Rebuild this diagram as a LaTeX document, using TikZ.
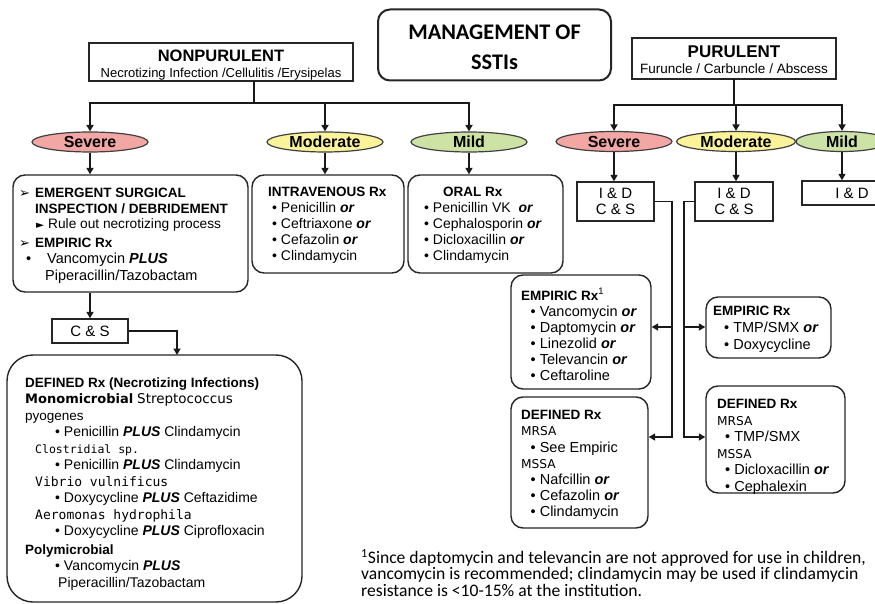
\documentclass[tikz,border=0pt]{standalone}
\usepackage{fontspec}
\setmainfont{Liberation Sans}
\newfontfamily\dingfont{DejaVu Sans}
\newfontfamily\dvsfont{DejaVu Sans}
\newfontfamily\mymono{DejaVu Sans Mono}
\newfontfamily\carlfont{Carlito}
\usetikzlibrary{arrows.meta,shapes.geometric}
\newcommand{\setfs}[2]{\fontsize{#1}{#2}\selectfont}
\newcommand{\bi}[1]{\textbf{\textit{#1}}}
\newcommand{\hd}[1]{{\setfs{13.5}{16}\bfseries #1}}
\newcommand{\dng}[1]{{\dingfont\setfs{13}{16}#1}}
\definecolor{sevcol}{RGB}{242,167,165}
\definecolor{modcol}{RGB}{250,243,154}
\definecolor{mildcol}{RGB}{205,227,165}
\definecolor{edge}{RGB}{38,38,38}
\begin{document}
\begin{tikzpicture}[x=1pt,y=-1pt,
  ln/.style={line width=1.9pt, draw=black!90, line cap=rect},
  arr/.style={line width=1.9pt, draw=black!90, -{Triangle[length=6.5pt,width=7pt]}},
  sqbox/.style={draw=edge, line width=1.4pt, inner sep=0, fill=white},
  rbox/.style={draw=edge, line width=1.4pt, rounded corners=12pt, inner sep=0, fill=white},
  ell/.style={ellipse, draw=black!75, line width=1.2pt, inner sep=0, minimum width=116pt, minimum height=20pt, font=\setfs{16}{16}\bfseries},
  txt/.style={inner sep=0, anchor=north west, align=left},
]
\useasboundingbox (0,0) rectangle (875,604);
\fill[white] (0,0) rectangle (875,604);
\clip (0,0) rectangle (875,604);

% ---------- boxes ----------
\node[rbox, line width=2pt, minimum width=233, minimum height=71] (title) at (494.5,45) {};
\node[sqbox, minimum width=264, minimum height=38] (np) at (221,62) {};
\node[sqbox, minimum width=204, minimum height=41] (pu) at (734,58.5) {};
\node[rbox, minimum width=235, minimum height=117] (sevbox) at (130.5,233.5) {};
\node[rbox, minimum width=152, minimum height=98] (ivbox) at (328,224) {};
\node[rbox, minimum width=155, minimum height=98] (orbox) at (485.5,224) {};
\node[sqbox, minimum width=76, minimum height=24, font=\setfs{15}{16}] (csL) at (90,331) {C \& S};
\node[rbox, rounded corners=26pt, minimum width=295, minimum height=247] (bigbox) at (154.5,478.5) {};
\node[sqbox, minimum width=77, minimum height=39, align=center, font=\setfs{15}{16}] (idS) at (615.5,201.5) {I \& D\\C \& S};
\node[sqbox, minimum width=78, minimum height=39, align=center, font=\setfs{15}{16}] (idM) at (734,201.5) {I \& D\\C \& S};
\node[sqbox, minimum width=100, minimum height=24, font=\setfs{15}{16}] (idMi) at (852,193) {I \& D};
\node[rbox, minimum width=140, minimum height=114] (empS) at (581,332) {};
\node[rbox, minimum width=137, minimum height=131] (defS) at (579.5,462.5) {};
\node[rbox, minimum width=125, minimum height=61] (empM) at (768.5,327.5) {};
\node[rbox, minimum width=139, minimum height=107] (defM) at (775.5,439.5) {};

% ---------- ellipses ----------
\node[ell, fill=sevcol] (eSL) at (90,142) {Severe};
\node[ell, fill=modcol] (eML) at (325,142) {Moderate};
\node[ell, fill=mildcol] (eMiL) at (469,142) {Mild};
\node[ell, fill=sevcol] (eSR) at (614,141.5) {Severe};
\node[ell, fill=modcol, minimum width=119pt] (eMR) at (736,141.5) {Moderate};
\node[ell, fill=mildcol, minimum width=92pt] (eMiR) at (842,141.5) {Mild};

% ---------- connectors ----------
\coordinate (npj) at (254,103);
\coordinate (npl) at (90,103);
\coordinate (npr) at (469,103);
\draw[ln] (npj |- np.south) -- (npj);
\draw[ln] (npl) -- (npr);
\draw[arr] (npl) -- (eSL.north);
\draw[arr] (eML.north |- npl) -- (eML.north);
\draw[arr] (npr) -- (eMiL.north);

\coordinate (pul) at (614,105);
\coordinate (pur) at (842,105);
\draw[ln] (pu.south) -- (pu.south |- pul);
\draw[ln] (pul) -- (pur);
\draw[arr] (pul) -- (eSR.north);
\draw[arr] (eMR.north |- pul) -- (eMR.north);
\draw[arr] (pur) -- (eMiR.north);

\draw[arr] (eSL.south) -- (eSL.south |- sevbox.north);
\draw[arr] (eML.south) -- (eML.south |- ivbox.north);
\draw[arr] (eMiL.south) -- (eMiL.south |- orbox.north);
\draw[arr] (csL.north |- sevbox.south) -- (csL.north);
\coordinate (bigin) at (177,355);
\draw[arr] (csL.east) -| (bigin);

\draw[arr] (eSR.south) -- (eSR.south |- idS.north);
\draw[arr] (eMR.south) -- (eMR.south |- idM.north);
\draw[arr] (eMiR.south) -- (eMiR.south |- idMi.north);

\coordinate (vS1) at (672,327);
\coordinate (vS2) at (672,437);
\coordinate (vM1) at (684,327);
\coordinate (vM2) at (684,437);
\draw[ln] (idS.east) -| (vS2);
\draw[arr] (vS1) -- (vS1 -| empS.east);
\draw[arr] (vS2) -- (vS2 -| defS.east);
\draw[ln] (idM.west) -| (vM2);
\draw[arr] (vM1) -- (vM1 -| empM.west);
\draw[arr] (vM2) -- (vM2 -| defM.west);

% ---------- texts ----------
\node[inner sep=0, anchor=north, align=center, font=\carlfont\setfs{22.3}{30}\bfseries] (titlet) at (494.5,25) {MANAGEMENT OF\\SSTIs};
\node[inner sep=0, anchor=north, align=center, font=\setfs{13}{15.75}] (npt) at (221,50.1) {{\setfs{16.5}{15.75}\bfseries NONPURULENT}\\Necrotizing Infection /Cellulitis /Erysipelas};
\node[inner sep=0, anchor=north, align=center, font=\setfs{13.5}{15.7}] (put) at (734,45.9) {{\setfs{17}{15.7}\bfseries PURULENT}\\Furuncle / Carbuncle / Abscess};

\node[txt, font=\setfs{14.5}{15.5}] (sevt) at (19,188.2) {%
\makebox[16pt][l]{\dng{➢}}\hd{EMERGENT SURGICAL}\\
\hspace*{16pt}\hd{INSPECTION / DEBRIDEMENT}\\
\hspace*{17pt}\makebox[12pt][l]{{\dingfont\setfs{10.5}{15.5}►}}{\setfs{13.7}{15.5}Rule out necrotizing process}\\[3.5pt]
\makebox[16pt][l]{\dng{➢}}\hd{EMPIRIC Rx}\\
\hspace*{7pt}\makebox[21pt][l]{•}Vancomycin \bi{PLUS}\\[1.5pt]
\hspace*{26pt}Piperacillin/Tazobactam};

\node[txt, font=\setfs{14}{16}] (ivt) at (268,187.2) {\hd{INTRAVENOUS Rx}\\
\hspace*{4pt}• Penicillin \bi{or}\\
\hspace*{4pt}• Ceftriaxone \bi{or}\\
\hspace*{4pt}• Cefazolin \bi{or}\\
\hspace*{4pt}• Clindamycin};

\node[txt, font=\setfs{14}{16}] (ort) at (424,187.2) {\hspace*{19pt}\hd{ORAL Rx}\\
• Penicillin VK \ \bi{or}\\
• Cephalosporin \bi{or}\\
• Dicloxacillin \bi{or}\\
• Clindamycin};

\node[txt, font=\setfs{14}{16.5}] (bigt) at (25,377.2) {%
\hd{DEFINED Rx (Necrotizing Infections)}\\
{\dvsfont\setfs{13}{16.5}\bfseries Monomicrobial} {\dvsfont\setfs{13.5}{16.5}Streptococcus}\\
{\setfs{13.5}{16.5}pyogenes}\\
\hspace*{30pt}• Penicillin \bi{PLUS} Clindamycin\\
\hspace*{10pt}{\mymono\setfs{11.5}{16.5}Clostridial sp.}\\
\hspace*{30pt}• Penicillin \bi{PLUS} Clindamycin\\
\hspace*{10pt}{\mymono\setfs{13}{16.5}Vibrio vulnificus}\\
\hspace*{30pt}• Doxycycline \bi{PLUS} Ceftazidime\\
\hspace*{10pt}{\mymono\setfs{13}{16.5}Aeromonas hydrophila}\\
\hspace*{30pt}• Doxycycline \bi{PLUS} Ciprofloxacin\\[2pt]
\hd{Polymicrobial}\\
\hspace*{30pt}• Vancomycin \bi{PLUS}\\
\hspace*{33pt}Piperacillin/Tazobactam};

\node[txt, font=\setfs{14.5}{16}] (empSt) at (521,288.2) {\hd{EMPIRIC Rx\textsuperscript{\mdseries 1}}\\
\hspace*{9.5pt}• Vancomycin \bi{or}\\
\hspace*{9.5pt}• Daptomycin \bi{or}\\
\hspace*{9.5pt}• Linezolid \bi{or}\\
\hspace*{9.5pt}• Televancin \bi{or}\\
\hspace*{9.5pt}• Ceftaroline};

\node[txt, font=\setfs{14.5}{16.2}] (defSt) at (521,410.2) {\hd{DEFINED Rx}\\
{\dvsfont\setfs{12.2}{16.2}MRSA}\\
\hspace*{9.5pt}• See Empiric\\
{\dvsfont\setfs{12.2}{16.2}MSSA}\\
\hspace*{9.5pt}• Nafcillin \bi{or}\\
\hspace*{9.5pt}• Cefazolin \bi{or}\\
\hspace*{9.5pt}• Clindamycin};

\node[txt, font=\setfs{14.5}{16.7}] (empMt) at (713,306.2) {\hd{EMPIRIC Rx}\\
\hspace*{11pt}• TMP/SMX \bi{or}\\
\hspace*{11pt}• Doxycycline};

\node[txt, font=\setfs{14.5}{16.5}] (defMt) at (717,399.2) {\hd{DEFINED Rx}\\
{\dvsfont\setfs{12.2}{16.5}MRSA}\\
\hspace*{8pt}• TMP/SMX\\
{\dvsfont\setfs{12.2}{16.5}MSSA}\\
\hspace*{8pt}• Dicloxacillin \bi{or}\\
\hspace*{8pt}• Cephalexin};

\node[txt, font=\carlfont\setfs{17.6}{16.5}] (fn) at (361,549) {\textsuperscript{1}Since daptomycin and televancin are not approved for use in children,\\
vancomycin is recommended; clindamycin may be used if clindamycin\\
resistance is <10-15\% at the institution.};
\end{tikzpicture}
\end{document}
